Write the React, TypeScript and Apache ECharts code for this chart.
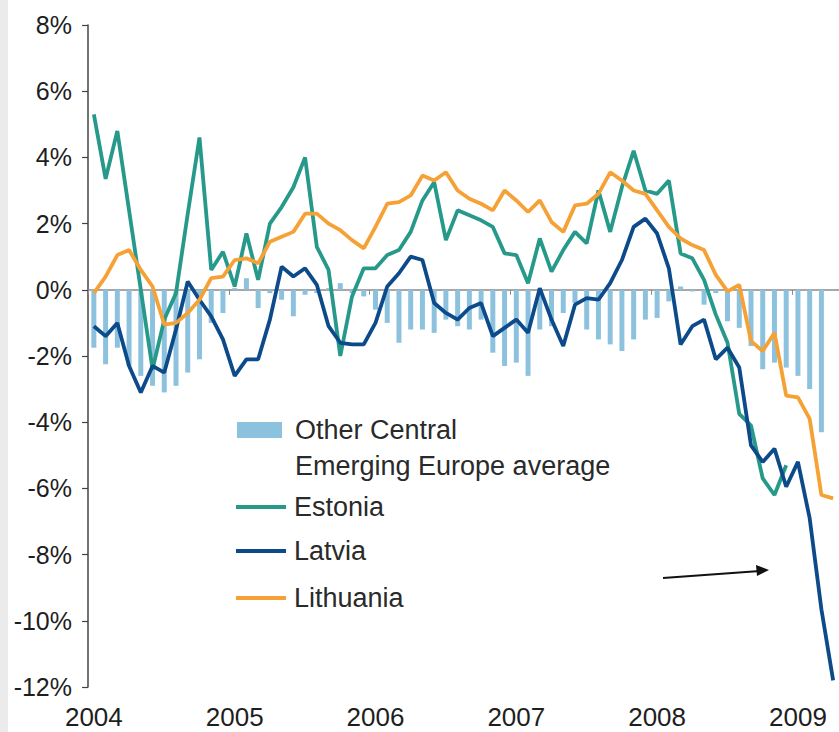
import React, { useEffect, useRef } from "react";
import * as echarts from "echarts";

// Monthly categories Jan 2004 .. Apr 2009
const months: string[] = [];
for (let y = 2004; y <= 2009; y++) {
  for (let m = 1; m <= 12; m++) {
    if (months.length < 64) months.push(`${y}-${m < 10 ? "0" + m : m}`);
  }
}

const yTicks = [-12, -10, -8, -6, -4, -2, 0, 2, 4, 6, 8];

const otherCEE: (number | null)[] = [
  -1.75, -2.25, -1.75, -2.3, -2.6, -2.9, -3.1, -2.9, -2.5, -2.1, -1.0, -0.7,
  0.05, 0.35, -0.55, -0.1, -0.3, -0.8, -0.15, -0.1, 0.05, 0.2, -0.1, -0.2,
  -0.6, -1.0, -1.6, -1.2, -1.2, -1.3, -0.9, -1.1, -1.2, -0.9, -1.9, -2.3,
  -2.2, -2.6, -1.2, -1.1, -0.7, -0.4, -1.2, -1.5, -1.65, -1.85, -1.5, -0.9,
  -0.85, -0.35, 0.1, -0.05, -0.45, -0.1, -0.95, -1.15, -1.7, -2.4, -2.2, -2.35,
  -2.6, -3.0, -4.3, null,
];

const estonia: (number | null)[] = [
  5.3, 3.35, 4.8, 2.4, 0.0, -2.4, -0.9, -0.1, 2.3, 4.6, 0.6, 1.15,
  0.1, 1.7, 0.3, 2.0, 2.5, 3.1, 4.0, 1.3, 0.6, -2.0, -0.2, 0.65,
  0.65, 1.05, 1.2, 1.75, 2.7, 3.25, 1.5, 2.4, 2.25, 2.1, 1.9, 1.1,
  1.05, 0.2, 1.55, 0.55, 1.2, 1.75, 1.4, 3.0, 1.75, 3.1, 4.2, 3.0,
  2.9, 3.3, 1.1, 0.95, 0.3, -0.75, -1.6, -3.75, -4.1, -5.7, -6.2, -5.3,
  null, null, null, null,
];

const latvia: (number | null)[] = [
  -1.1, -1.4, -1.0, -2.3, -3.1, -2.3, -2.5, -1.2, 0.25, -0.3, -0.8, -1.5,
  -2.6, -2.1, -2.1, -0.9, 0.7, 0.4, 0.65, 0.15, -1.1, -1.6, -1.65, -1.65,
  -1.0, 0.1, 0.5, 1.0, 0.9, -0.4, -0.7, -0.9, -0.55, -0.4, -1.4, -1.15,
  -0.9, -1.3, 0.05, -0.9, -1.7, -0.45, -0.25, -0.3, 0.2, 0.9, 1.9, 2.15,
  1.7, 0.65, -1.65, -1.1, -0.9, -2.1, -1.75, -2.35, -4.7, -5.2, -4.8, -5.95,
  -5.2, -6.9, -9.65, -11.8,
];

const lithuania: (number | null)[] = [
  -0.1, 0.4, 1.05, 1.2, 0.6, 0.1, -1.05, -1.0, -0.7, -0.3, 0.35, 0.4,
  0.9, 0.95, 0.8, 1.45, 1.6, 1.75, 2.3, 2.3, 2.0, 1.8, 1.5, 1.25,
  1.9, 2.6, 2.65, 2.85, 3.45, 3.3, 3.55, 3.0, 2.75, 2.6, 2.4, 3.0,
  2.7, 2.35, 2.7, 2.05, 1.75, 2.55, 2.6, 2.9, 3.55, 3.3, 3.0, 2.9,
  2.4, 1.9, 1.55, 1.35, 1.2, 0.45, -0.05, 0.15, -1.55, -1.85, -1.3, -3.2,
  -3.25, -3.9, -6.2, -6.3,
];

const OTHER = "Other Central Emerging Europe average";
const C_BAR = "#8dc2df";
const C_EST = "#26998a";
const C_LAT = "#0c4a8a";
const C_LIT = "#f6a136";
const AXIS_FONT = '"Liberation Sans", Arial, sans-serif';
const LEG_FONT = '"Liberation Sans", Arial, sans-serif';

export default function App() {
  const ref = useRef<HTMLDivElement>(null);
  useEffect(() => {
    if (!ref.current) return;
    const chart = echarts.init(ref.current, null, { renderer: "svg" });
    const legendBase = {
      orient: "horizontal",
      icon: "rect",
      padding: 0,
      itemWidth: 50,
      itemHeight: 4,
      textStyle: {
        color: "#2a2a2a",
        fontSize: 27,
        fontFamily: LEG_FONT,
        lineHeight: 30,
        padding: [0, 0, 0, 3],
      },
    };
    chart.setOption({
      animation: false,
      grid: { left: 88, top: 25, bottom: 45, right: -7.4, containLabel: false },
      legend: [
        {
          ...legendBase,
          data: [OTHER],
          left: 237,
          top: 415,
          itemWidth: 45,
          itemHeight: 16,
          formatter: () => "Other Central",
          textStyle: { ...legendBase.textStyle, padding: [0, 0, 0, 8] },
        },
        { ...legendBase, data: ["Estonia"], left: 236, top: 492 },
        { ...legendBase, data: ["Latvia"], left: 236, top: 536 },
        { ...legendBase, data: ["Lithuania"], left: 236, top: 583 },
      ],
      xAxis: [
        {
          type: "category",
          data: months,
          position: "bottom",
          boundaryGap: true,
          axisLine: { show: false, onZero: false },
          axisTick: { show: false },
          axisLabel: {
            interval: (i: number) => i % 12 === 0,
            formatter: (v: string) => v.slice(0, 4),
            color: "#1e1e1e",
            fontSize: 26,
            fontFamily: AXIS_FONT,
            margin: 17,
          },
          splitLine: { show: false },
        },
        {
          type: "category",
          data: months,
          position: "bottom",
          boundaryGap: true,
          axisLine: { show: true, onZero: true, lineStyle: { color: "#8a8a8a", width: 1.5 } },
          axisTick: {
            show: true,
            interval: (i: number) => i % 12 === 0,
            length: 5,
            lineStyle: { color: "#8a8a8a", width: 1 },
          },
          axisLabel: { show: false },
          splitLine: { show: false },
        },
      ],
      yAxis: {
        type: "value",
        min: yTicks[0],
        max: yTicks[yTicks.length - 1],
        interval: 2,
        axisLine: { show: true, lineStyle: { color: "#444", width: 1.5 } },
        axisTick: { show: true, inside: false, length: 6, lineStyle: { color: "#444", width: 1.2 } },
        axisLabel: {
          formatter: (v: number) => `${v}%`,
          color: "#1e1e1e",
          fontSize: 25,
          fontFamily: AXIS_FONT,
          margin: 16,
        },
        splitLine: { show: false },
      },
      series: [
        {
          name: OTHER,
          type: "bar",
          xAxisIndex: 0,
          data: otherCEE,
          barWidth: 5,
          itemStyle: { color: C_BAR },
        },
        {
          name: "Estonia",
          type: "line",
          xAxisIndex: 0,
          data: estonia,
          symbol: "none",
          lineStyle: { color: C_EST, width: 3.8 },
          itemStyle: { color: C_EST },
        },
        {
          name: "Latvia",
          type: "line",
          xAxisIndex: 0,
          data: latvia,
          symbol: "none",
          lineStyle: { color: C_LAT, width: 3.8 },
          itemStyle: { color: C_LAT },
        },
        {
          name: "Lithuania",
          type: "line",
          xAxisIndex: 0,
          data: lithuania,
          symbol: "none",
          lineStyle: { color: C_LIT, width: 3.8 },
          itemStyle: { color: C_LIT },
        },
      ],
      graphic: [
        {
          type: "text",
          x: 295,
          y: 466,
          style: {
            text: "Emerging Europe average",
            fill: "#2a2a2a",
            font: `27px ${LEG_FONT}`,
            verticalAlign: "middle",
          },
        },
        {
          type: "line",
          shape: { x1: 663, y1: 578, x2: 760, y2: 571 },
          style: { stroke: "#111", lineWidth: 2 },
        },
        {
          type: "polygon",
          shape: { points: [[769, 570], [756, 565], [757, 576]] },
          style: { fill: "#111" },
        },
      ],
    });
    return () => chart.dispose();
  }, []);

  return (
    <div style={{ position: "fixed", left: 0, top: 0, width: 839, height: 732, background: "#fff", overflow: "hidden" }}>
      <div style={{ position: "absolute", left: 0, top: 0, width: 8, height: 732, background: "#ebebeb" }} />
      <div ref={ref} style={{ position: "absolute", left: 0, top: 0, width: 839, height: 732 }} />
    </div>
  );
}
